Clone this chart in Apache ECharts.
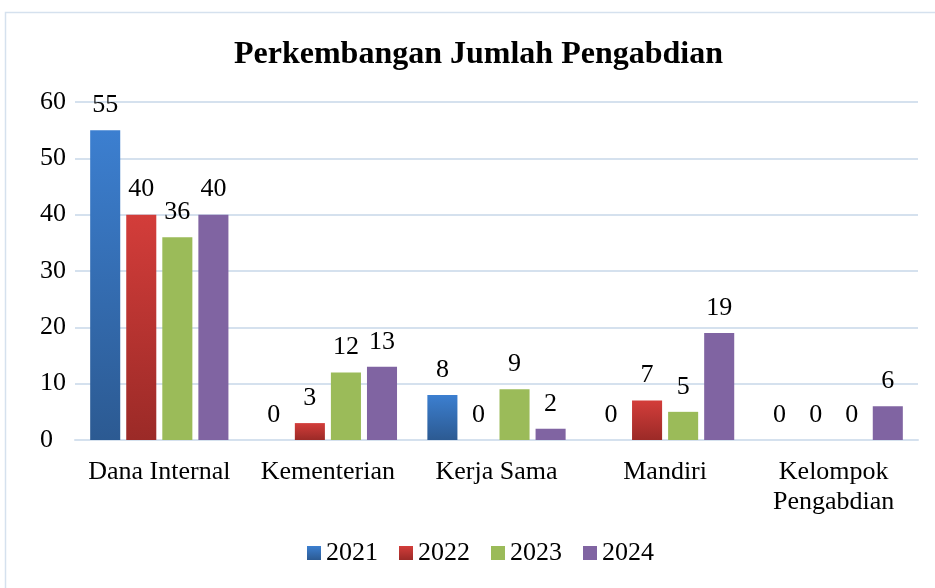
<!DOCTYPE html>
<html>
<head>
<meta charset="utf-8">
<script src="https://cdn.jsdelivr.net/npm/echarts@6/dist/echarts.min.js"></script>
<style>
  html, body { margin: 0; padding: 0; background: #fff; }
  #chart { width: 935px; height: 588px; }
</style>
</head>
<body>
<div id="chart"></div>
<script>
var categories = ['Dana Internal', 'Kementerian', 'Kerja Sama', 'Mandiri', 'Kelompok\nPengabdian'];
var years = ['2021', '2022', '2023', '2024'];
var data2021 = [55, 0, 8, 0, 0];
var data2022 = [40, 3, 0, 7, 0];
var data2023 = [36, 12, 9, 5, 0];
var data2024 = [40, 13, 2, 19, 6];
var yTicks = [0, 10, 20, 30, 40, 50, 60];

var font = '"Liberation Serif", "Times New Roman", serif';

function grad(top, bottom) {
    return new echarts.graphic.LinearGradient(0, 0, 0, 1, [
        { offset: 0, color: top },
        { offset: 1, color: bottom }
    ]);
}

var colors = [
    grad('#3c7fd0', '#2c5a92'),
    grad('#d33d3a', '#9b2a27'),
    '#9bbb59',
    '#8064a2'
];

var chart = echarts.init(document.getElementById('chart'));

function makeSeries(name, values, color) {
    return {
        name: name,
        type: 'bar',
        data: values,
        barGap: '20%',
        barCategoryGap: '18%',
        itemStyle: { color: color },
        label: {
            show: true,
            position: 'top',
            distance: 12,
            color: '#000',
            fontFamily: font,
            fontSize: 26
        }
    };
}

var option = {
    animation: false,
    backgroundColor: '#fff',
    title: {
        text: 'Perkembangan Jumlah Pengabdian',
        left: 229,
        top: 34,
        textStyle: {
            fontFamily: font,
            fontWeight: 'bold',
            fontSize: 32,
            color: '#000'
        }
    },
    graphic: [{
        type: 'rect',
        shape: { x: 5.5, y: 12.5, width: 940, height: 600 },
        style: { fill: 'none', stroke: '#d5e1ee', lineWidth: 1.5 },
        z: -1
    }],
    legend: {
        bottom: 17,
        left: 302,
        itemWidth: 14,
        itemHeight: 14,
        itemGap: 21,
        icon: 'rect',
        data: years,
        textStyle: {
            fontFamily: font,
            fontSize: 26,
            color: '#000'
        }
    },
    grid: {
        left: 75,
        right: 17,
        top: 102,
        bottom: 148
    },
    xAxis: {
        type: 'category',
        data: categories,
        axisLine: { show: true, lineStyle: { color: '#d5e1ee', width: 2 } },
        axisTick: { show: false },
        axisLabel: {
            color: '#000',
            fontFamily: font,
            fontSize: 26,
            margin: 17,
            lineHeight: 30,
            interval: 0
        }
    },
    yAxis: {
        type: 'value',
        min: yTicks[0],
        max: yTicks[yTicks.length - 1],
        interval: 10,
        axisLine: { show: false },
        axisTick: { show: false },
        splitLine: { lineStyle: { color: '#d5e1ee', width: 2 } },
        axisLabel: {
            color: '#000',
            fontFamily: font,
            fontSize: 26,
            margin: 35,
            align: 'left'
        }
    },
    series: [
        makeSeries(years[0], data2021, colors[0]),
        makeSeries(years[1], data2022, colors[1]),
        makeSeries(years[2], data2023, colors[2]),
        makeSeries(years[3], data2024, colors[3])
    ]
};

chart.setOption(option);
</script>
</body>
</html>
